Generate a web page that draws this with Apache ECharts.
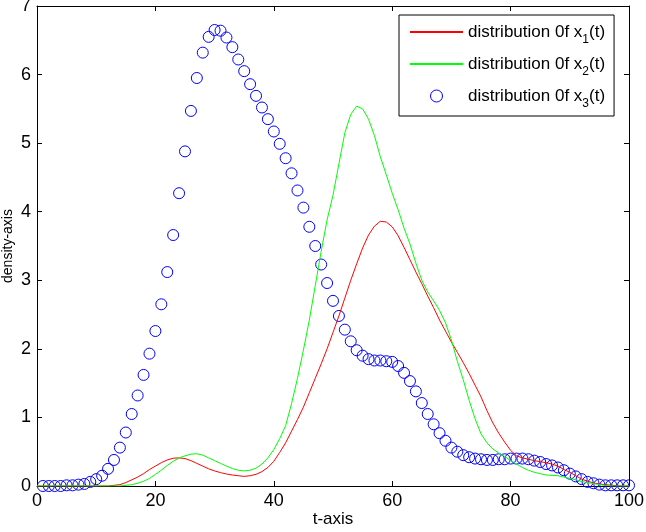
<!DOCTYPE html>
<html>
<head>
<meta charset="utf-8">
<script src="https://cdn.jsdelivr.net/npm/echarts@6/dist/echarts.min.js"></script>
<style>
html,body{margin:0;padding:0;background:#fff;}
#chart{width:646px;height:532px;}
</style>
</head>
<body>
<div id="chart"></div>
<script>
// t values for the two curves (0..100)
const tValues = [
  0,1,2,3,4,5,6,7,8,9,
  10,11,12,13,14,15,16,17,18,19,
  20,21,22,23,24,25,26,27,28,29,
  30,31,32,33,34,35,36,37,38,39,
  40,41,42,43,44,45,46,47,48,49,
  50,51,52,53,54,55,56,57,58,59,
  60,61,62,63,64,65,66,67,68,69,
  70,71,72,73,74,75,76,77,78,79,
  80,81,82,83,84,85,86,87,88,89,
  90,91,92,93,94,95,96,97,98,99,
  100
];
const x1Values = [
  0,0,0,0,0,0,0,0,0,0,
  0,0,0,0.01,0.02,0.05,0.09,0.13,0.18,0.24,
  0.29,0.34,0.38,0.405,0.41,0.40,0.37,0.33,0.29,0.25,
  0.22,0.195,0.175,0.16,0.15,0.14,0.15,0.17,0.21,0.27,
  0.36,0.49,0.63,0.80,0.97,1.15,1.36,1.57,1.78,2.00,
  2.24,2.48,2.74,3.00,3.24,3.47,3.66,3.79,3.86,3.85,
  3.78,3.65,3.48,3.30,3.12,2.95,2.77,2.60,2.42,2.26,
  2.10,1.95,1.80,1.64,1.47,1.30,1.10,0.92,0.77,0.64,
  0.52,0.44,0.41,0.39,0.37,0.355,0.34,0.32,0.29,0.24,
  0.20,0.15,0.10,0.07,0.045,0.03,0.02,0.01,0.005,0,
  0
];
const x2Values = [
  0,0,0,0,0,0,0,0,0,0,
  0,0,0,0,0,0.01,0.02,0.04,0.07,0.11,
  0.17,0.23,0.30,0.36,0.41,0.44,0.465,0.47,0.45,0.41,
  0.37,0.33,0.29,0.255,0.23,0.22,0.23,0.26,0.32,0.41,
  0.53,0.69,0.88,1.20,1.57,1.98,2.42,2.92,3.42,3.88,
  4.24,4.70,5.15,5.42,5.54,5.50,5.35,5.11,4.80,4.54,
  4.27,4.03,3.76,3.53,3.25,3.00,2.83,2.70,2.56,2.38,
  2.13,1.82,1.55,1.25,0.98,0.76,0.63,0.54,0.48,0.43,
  0.37,0.32,0.27,0.23,0.20,0.18,0.16,0.155,0.15,0.13,
  0.11,0.09,0.065,0.05,0.035,0.02,0.01,0,0,0,
  0
];
// t values for the circles (1..100)
const tCircles = [
  1,2,3,4,5,6,7,8,9,10,
  11,12,13,14,15,16,17,18,19,20,
  21,22,23,24,25,26,27,28,29,30,
  31,32,33,34,35,36,37,38,39,40,
  41,42,43,44,45,46,47,48,49,50,
  51,52,53,54,55,56,57,58,59,60,
  61,62,63,64,65,66,67,68,69,70,
  71,72,73,74,75,76,77,78,79,80,
  81,82,83,84,85,86,87,88,89,90,
  91,92,93,94,95,96,97,98,99,100
];
const x3Values = [
  0,0,0,0,0.01,0.01,0.02,0.03,0.06,0.10,
  0.15,0.25,0.38,0.56,0.78,1.05,1.32,1.62,1.93,2.26,
  2.65,3.12,3.66,4.27,4.88,5.47,5.95,6.32,6.55,6.65,
  6.64,6.54,6.40,6.22,6.05,5.86,5.69,5.52,5.35,5.17,
  4.99,4.78,4.56,4.31,4.06,3.78,3.50,3.23,2.96,2.70,
  2.48,2.28,2.11,1.98,1.90,1.85,1.83,1.83,1.82,1.81,
  1.75,1.65,1.53,1.38,1.21,1.05,0.90,0.77,0.66,0.56,
  0.50,0.45,0.42,0.40,0.39,0.38,0.38,0.39,0.39,0.40,
  0.40,0.40,0.39,0.37,0.35,0.32,0.30,0.27,0.23,0.18,
  0.14,0.10,0.06,0.04,0.02,0.01,0.01,0.01,0.01,0.01
];
const xTicks = {min: 0, max: 100, interval: 20};
const yTicks = {min: 0, max: 7, interval: 1};
const seriesNames = ['distribution 0f x1(t)', 'distribution 0f x2(t)', 'distribution 0f x3(t)'];
const legendRich = {
  'distribution 0f x1(t)': '{a|distribution 0f x}{s|1}{a|(t)}',
  'distribution 0f x2(t)': '{a|distribution 0f x}{s|2}{a|(t)}',
  'distribution 0f x3(t)': '{a|distribution 0f x}{s|3}{a|(t)}'
};

function pairs(xs, ys) { return xs.map((x, i) => [x, ys[i]]); }

const FONT = '"Liberation Sans", Arial, Helvetica, sans-serif';
const axisCommon = {
  axisLine: {show: true, onZero: false, lineStyle: {color: '#000', width: 1}},
  axisTick: {show: true, inside: true, length: 5, lineStyle: {color: '#000', width: 1}},
  splitLine: {show: false},
  minorTick: {show: false}
};

const chart = echarts.init(document.getElementById('chart'), null, {renderer: 'canvas'});
chart.setOption({
  animation: false,
  backgroundColor: '#fff',
  textStyle: {fontFamily: FONT},
  grid: {left: 37, right: 17, top: 6, bottom: 46, containLabel: false, outerBoundsMode: 'none'},
  xAxis: [
    Object.assign({
      type: 'value', position: 'bottom', min: xTicks.min, max: xTicks.max, interval: xTicks.interval,
      axisLabel: {show: true, color: '#000', fontSize: 18, fontFamily: FONT, margin: 6},
      name: 't-axis', nameLocation: 'middle', nameGap: 25, nameMoveOverlap: false,
      nameTextStyle: {color: '#000', fontSize: 17, fontFamily: FONT}
    }, axisCommon),
    Object.assign({
      type: 'value', position: 'top', min: xTicks.min, max: xTicks.max, interval: xTicks.interval,
      axisLabel: {show: false}
    }, axisCommon)
  ],
  yAxis: [
    Object.assign({
      type: 'value', position: 'left', min: yTicks.min, max: yTicks.max, interval: yTicks.interval,
      axisLabel: {show: true, color: '#000', fontSize: 18, fontFamily: FONT, margin: 6},
      name: 'density-axis', nameLocation: 'middle', nameGap: 22, nameMoveOverlap: false,
      nameTextStyle: {color: '#000', fontSize: 14, fontFamily: FONT}
    }, axisCommon),
    Object.assign({
      type: 'value', position: 'right', min: yTicks.min, max: yTicks.max, interval: yTicks.interval,
      axisLabel: {show: false}
    }, axisCommon)
  ],
  legend: {
    show: true,
    orient: 'vertical',
    left: 399, top: 15,
    padding: [3, 9, 6, 10],
    itemGap: 4,
    itemWidth: 53, itemHeight: 12,
    borderColor: '#000', borderWidth: 1, borderRadius: 0,
    backgroundColor: '#fff',
    selectedMode: false,
    data: [
      {name: seriesNames[0], itemStyle: {opacity: 0, color: 'rgba(0,0,0,0)', borderWidth: 0}},
      {name: seriesNames[1], itemStyle: {opacity: 0, color: 'rgba(0,0,0,0)', borderWidth: 0}},
      {name: seriesNames[2], itemStyle: {color: 'rgba(0,0,0,0)', borderColor: '#0000ff', borderWidth: 1}}
    ],
    formatter: function (name) { return legendRich[name]; },
    textStyle: {
      color: '#000', fontFamily: FONT, fontSize: 17,
      rich: {
        a: {fontSize: 17, lineHeight: 17, color: '#000', fontFamily: FONT, verticalAlign: 'middle'},
        s: {fontSize: 12, lineHeight: 12, color: '#000', fontFamily: FONT, padding: [16, 0, 0, 0], verticalAlign: 'middle'}
      }
    }
  },
  series: [
    {
      name: seriesNames[0], type: 'line', data: pairs(tValues, x1Values),
      symbol: 'none', showSymbol: false, smooth: false, z: 3,
      lineStyle: {color: '#ff0000', width: 1}, itemStyle: {color: '#ff0000'},
      emphasis: {disabled: true}, silent: true
    },
    {
      name: seriesNames[1], type: 'line', data: pairs(tValues, x2Values),
      symbol: 'none', showSymbol: false, smooth: false, z: 3,
      lineStyle: {color: '#00ff00', width: 1}, itemStyle: {color: '#00ff00'},
      emphasis: {disabled: true}, silent: true
    },
    {
      name: seriesNames[2], type: 'scatter', data: pairs(tCircles, x3Values),
      symbol: 'circle', symbolSize: 11, z: 2,
      itemStyle: {color: 'rgba(0,0,0,0)', borderColor: '#0000ff', borderWidth: 1, opacity: 1},
      emphasis: {disabled: true}, silent: true
    }
  ]
});
</script>
</body>
</html>
